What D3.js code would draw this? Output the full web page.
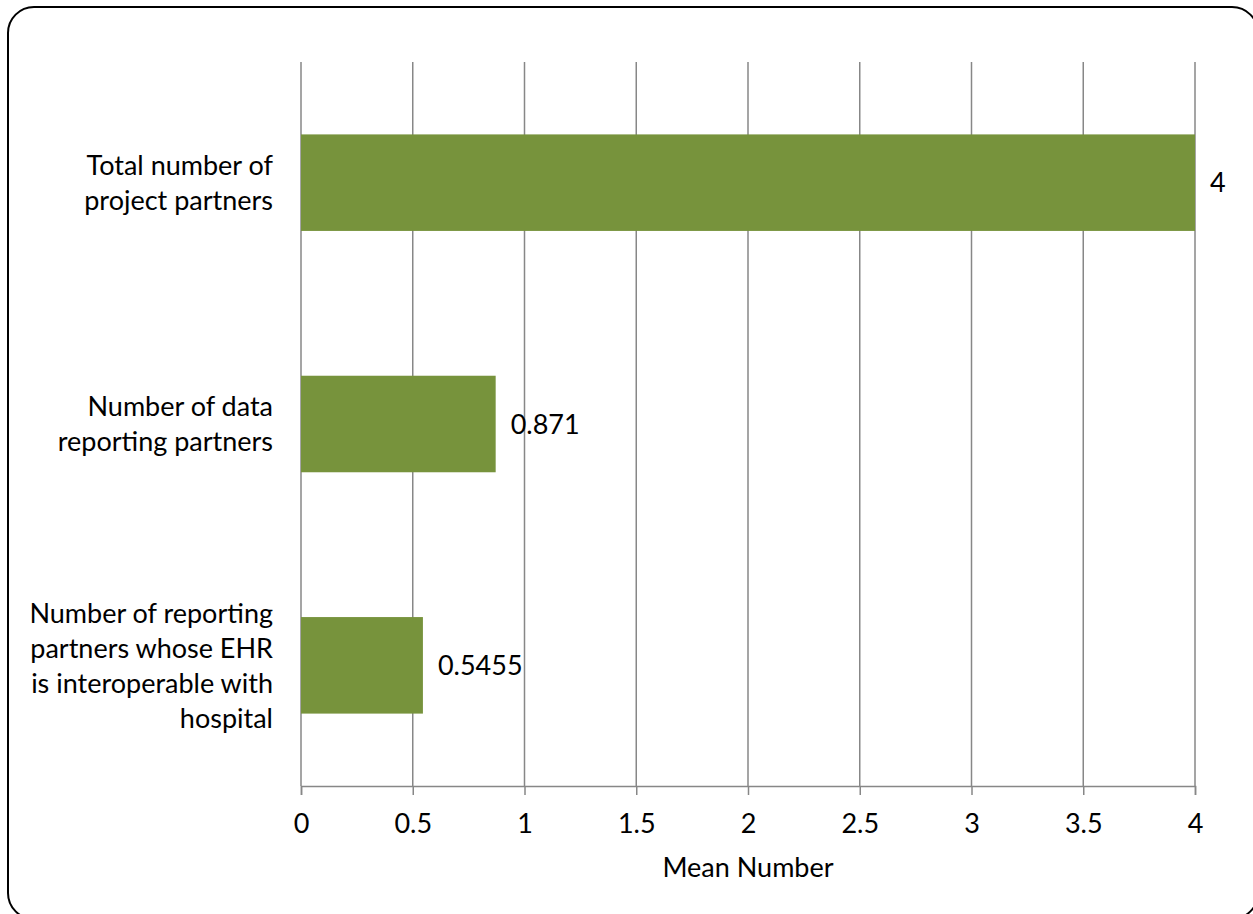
<!DOCTYPE html>
<html>
<head>
<meta charset="utf-8">
<script src="https://cdn.jsdelivr.net/npm/d3@7"></script>
<style>
  html, body { margin: 0; padding: 0; background: #fff; }
  svg { display: block; }
  text { font-family: Lato, "Open Sans", sans-serif; fill: #000; }
</style>
</head>
<body>
<svg id="chart" width="1253" height="914"></svg>
<script>
// Category labels (one line per array entry) and their mean values
const categories = [
  ["Total number of", "project partners"],
  ["Number of data", "reporting partners"],
  ["Number of reporting", "partners whose EHR", "is interoperable with", "hospital"]
];
const values = [4, 0.871, 0.5455];
const valueLabels = ["4", "0.871", "0.5455"];
const xTicks = [0, 0.5, 1, 1.5, 2, 2.5, 3, 3.5, 4];
const xTickLabels = ["0", "0.5", "1", "1.5", "2", "2.5", "3", "3.5", "4"];
const xTitle = "Mean Number";

const svg = d3.select("#chart");
const fontSize = 27;

// Rounded chart frame
svg.append("rect")
  .attr("x", 8).attr("y", 7)
  .attr("width", 1250).attr("height", 912)
  .attr("rx", 26).attr("ry", 26)
  .attr("fill", "#fff")
  .attr("stroke", "#000")
  .attr("stroke-width", 2);

const plot = { left: 301, right: 1195, top: 62, bottom: 786 };

const x = d3.scaleLinear().domain([0, 4]).range([plot.left, plot.right]);
const y = d3.scaleBand()
  .domain(d3.range(categories.length))
  .range([plot.top, plot.bottom])
  .paddingInner(0.6)
  .paddingOuter(0.3);

const gridColor = "#878787";

// Vertical gridlines
svg.append("g")
  .selectAll("line")
  .data(xTicks)
  .join("line")
  .attr("x1", d => x(d)).attr("x2", d => x(d))
  .attr("y1", plot.top).attr("y2", plot.bottom)
  .attr("stroke", gridColor)
  .attr("stroke-width", 1.5);

// Bars
svg.append("g")
  .selectAll("rect")
  .data(values)
  .join("rect")
  .attr("x", x(0))
  .attr("y", (d, i) => y(i))
  .attr("width", d => x(d) - x(0))
  .attr("height", y.bandwidth())
  .attr("fill", "#77933C");

// Value labels
svg.append("g")
  .selectAll("text")
  .data(values)
  .join("text")
  .attr("x", d => x(d) + 15)
  .attr("y", (d, i) => y(i) + y.bandwidth() / 2)
  .attr("dy", "0.36em")
  .attr("font-size", fontSize)
  .text((d, i) => valueLabels[i]);

// Bottom axis
const xAxis = d3.axisBottom(x)
  .tickValues(xTicks)
  .tickFormat((d, i) => xTickLabels[i])
  .tickSize(9)
  .tickPadding(19);

const gx = svg.append("g")
  .attr("transform", `translate(0,${plot.bottom})`)
  .call(xAxis);
gx.select(".domain").attr("stroke", gridColor).attr("stroke-width", 1.5);
gx.selectAll(".tick line").attr("stroke", gridColor).attr("stroke-width", 1.5);
gx.selectAll(".tick text")
  .attr("font-size", fontSize)
  .attr("font-family", "Lato, 'Open Sans', sans-serif")
  .attr("fill", "#000");

// Category labels, right-aligned left of the axis
const lineH = 35;
const cat = svg.append("g")
  .selectAll("text")
  .data(categories)
  .join("text")
  .attr("text-anchor", "end")
  .attr("font-size", fontSize)
  .attr("y", (d, i) => y(i) + y.bandwidth() / 2);
cat.each(function(lines) {
  const t = d3.select(this);
  const cy = +t.attr("y");
  const start = cy - (lines.length - 1) * lineH / 2;
  lines.forEach((ln, k) => {
    t.append("tspan")
      .attr("x", 273)
      .attr("y", start + k * lineH)
      .attr("dy", "0.36em")
      .text(ln);
  });
});

// Axis title
svg.append("text")
  .attr("x", (plot.left + plot.right) / 2)
  .attr("y", 867)
  .attr("dy", "0.36em")
  .attr("text-anchor", "middle")
  .attr("font-size", fontSize)
  .text(xTitle);
</script>
</body>
</html>
